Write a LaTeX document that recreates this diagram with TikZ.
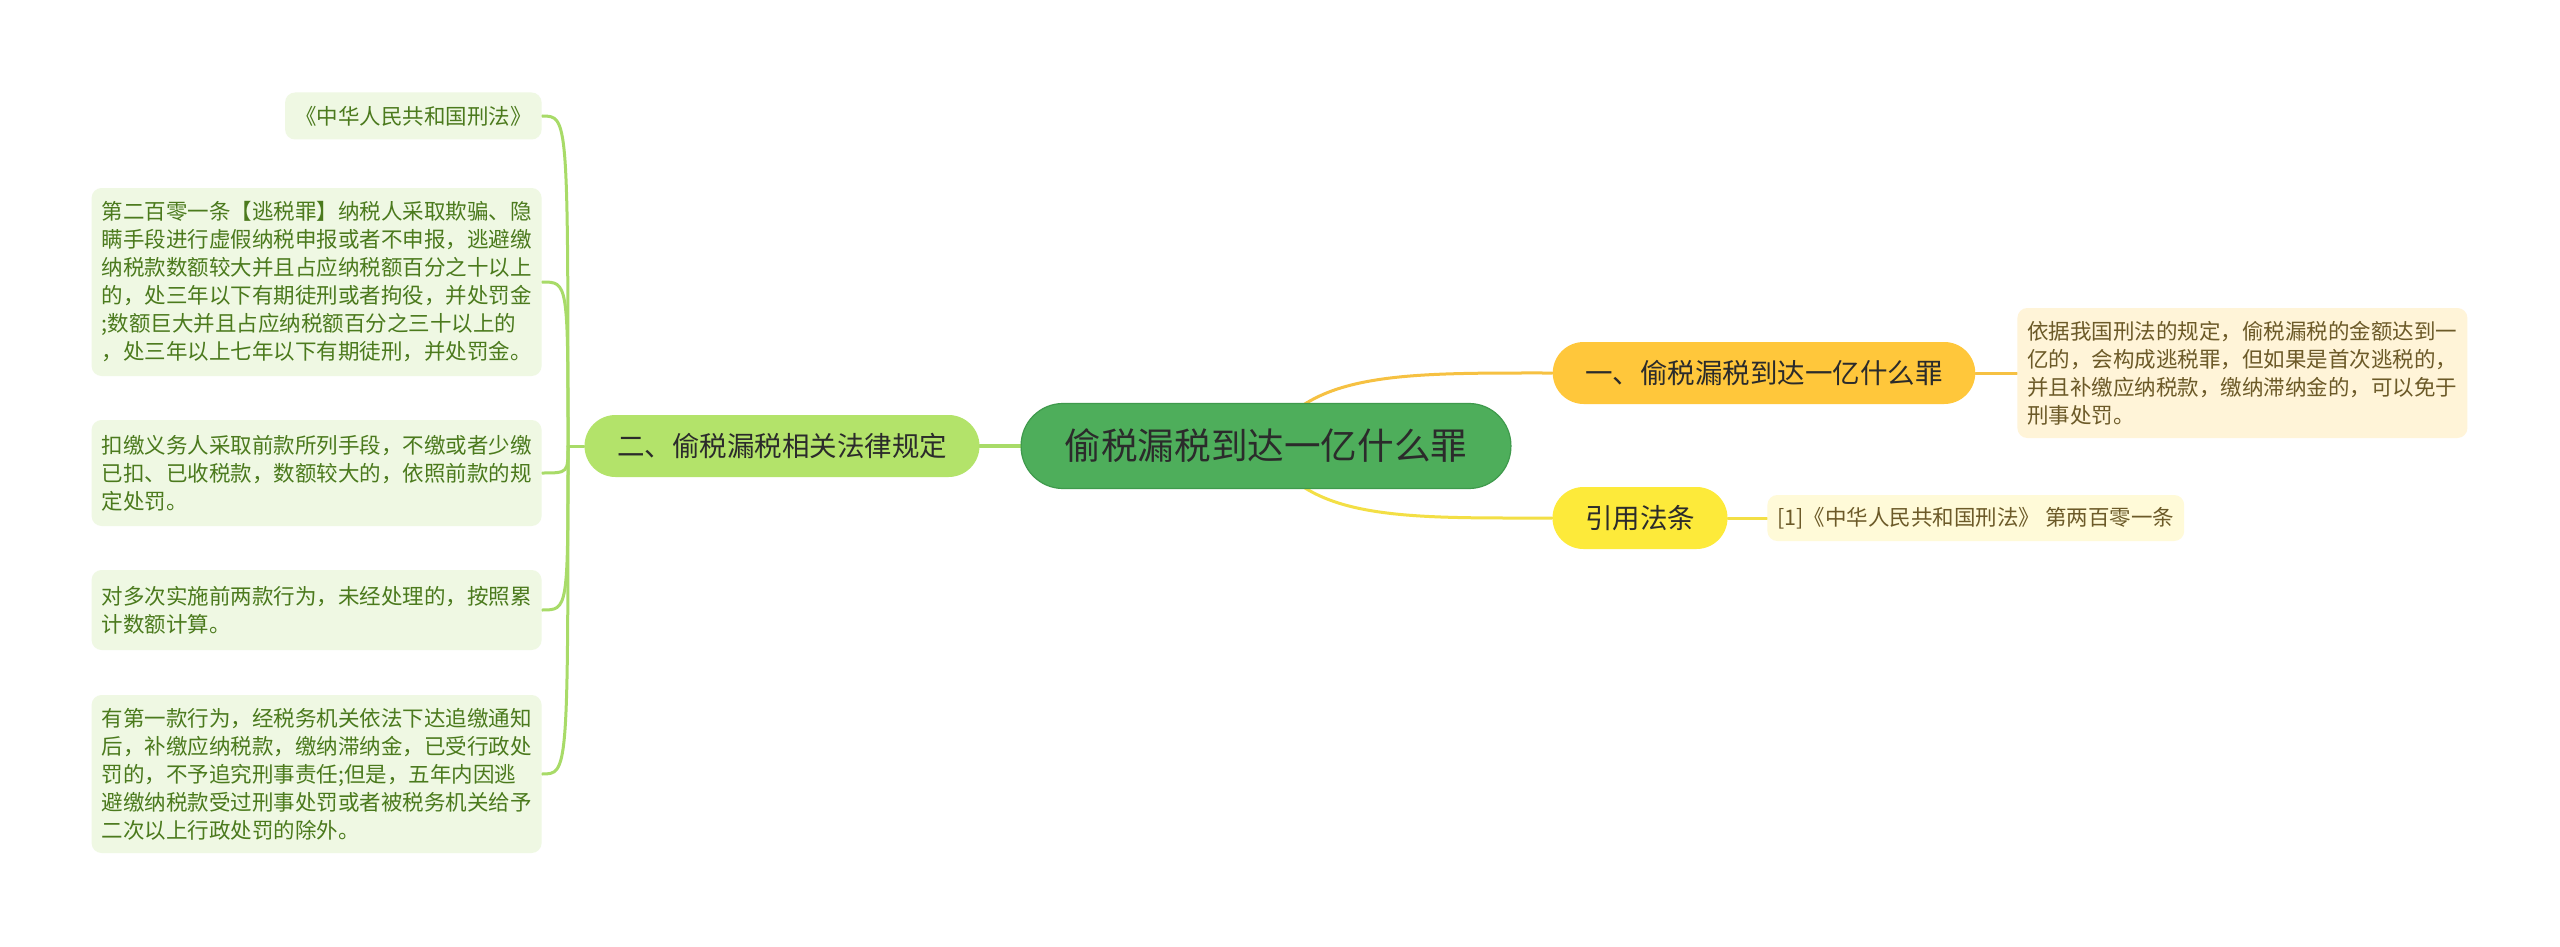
\documentclass[tikz,border=0pt]{standalone}
\usepackage{fontspec}
\setmainfont{Noto Sans CJK SC}
\usetikzlibrary{backgrounds}
\usepackage{xcolor}

\definecolor{centergreen}{HTML}{4EAE5B}
\definecolor{centeredge}{HTML}{3F9A4C}
\definecolor{branchgreen}{HTML}{B3E36A}
\definecolor{leafgreen}{HTML}{EFF8E3}
\definecolor{leaftext}{HTML}{4B7A1D}
\definecolor{wiregreen}{HTML}{A8DB68}
\definecolor{branchorange}{HTML}{FFC73B}
\definecolor{wireorange}{HTML}{F6C142}
\definecolor{leaforange}{HTML}{FFF4D8}
\definecolor{branchyellow}{HTML}{FDEA3A}
\definecolor{wireyellow}{HTML}{F3DF45}
\definecolor{leafyellow}{HTML}{FFFAD8}
\definecolor{browntext}{HTML}{6C5A28}
\definecolor{darktext}{HTML}{2B2B2B}

\tikzset{
    mainbox/.style={fill=centergreen, draw=centeredge, line width=0.6pt,
        rounded corners=21pt, minimum height=42.5pt, inner xsep=21.8pt,
        text=darktext, font=\fontsize{18.3}{22}\selectfont},
    topicbox/.style={rounded corners=15.5pt, minimum height=31pt,
        inner xsep=16.25pt, text=darktext, font=\fontsize{13.75}{16}\selectfont},
    leafbox/.style={rounded corners=5pt, align=left, inner xsep=5pt,
        inner ysep=2pt, font=\fontsize{10.75}{14}\selectfont},
    greenleaf/.style={leafbox, fill=leafgreen, text=leaftext, anchor=east},
    wire/.style={line width=1.5pt, line cap=round}
}

\begin{document}
\begin{tikzpicture}[x=0.5pt, y=-0.5pt]
        \useasboundingbox (0,0) rectangle (2560,947);

        % Central topic
        \node[mainbox] (cnode) at (1266,446) {偷税漏税到达一亿什么罪};

        % Main branches
        \node[topicbox, fill=branchgreen] (lmain) at (782,446) {二、偷税漏税相关法律规定};
        \node[topicbox, fill=branchorange] (rone) at (1764,373) {一、偷税漏税到达一亿什么罪};
        \node[topicbox, fill=branchyellow] (rtwo) at (1640,518) {引用法条};

        % Junction of the left bracket
        \coordinate (jl) at (568,446);

        % Left leaves
        \node[greenleaf, minimum height=23.5pt] (lone) at (542,116) {《中华人民共和国刑法》};
        \node[greenleaf, minimum height=94pt] (ltwo) at (542,282)
            {第二百零一条【逃税罪】纳税人采取欺骗、隐\\
             瞒手段进行虚假纳税申报或者不申报，逃避缴\\
             纳税款数额较大并且占应纳税额百分之十以上\\
             的，处三年以下有期徒刑或者拘役，并处罚金\\
             ;数额巨大并且占应纳税额百分之三十以上的\\
             ，处三年以上七年以下有期徒刑，并处罚金。};
        \node[greenleaf, minimum height=53pt] (lthree) at (542,473)
            {扣缴义务人采取前款所列手段，不缴或者少缴\\
             已扣、已收税款，数额较大的，依照前款的规\\
             定处罚。};
        \node[greenleaf, minimum height=40pt] (lfour) at (542,610)
            {对多次实施前两款行为，未经处理的，按照累\\
             计数额计算。};
        \node[greenleaf, minimum height=79pt] (lfive) at (542,774)
            {有第一款行为，经税务机关依法下达追缴通知\\
             后，补缴应纳税款，缴纳滞纳金，已受行政处\\
             罚的，不予追究刑事责任;但是，五年内因逃\\
             避缴纳税款受过刑事处罚或者被税务机关给予\\
             二次以上行政处罚的除外。};

        % Right leaves
        \node[leafbox, fill=leaforange, text=browntext, anchor=west, minimum height=65pt] (rleafone) at (2017,373)
            {依据我国刑法的规定，偷税漏税的金额达到一\\
             亿的，会构成逃税罪，但如果是首次逃税的，\\
             并且补缴应纳税款，缴纳滞纳金的，可以免于\\
             刑事处罚。};
        \node[leafbox, fill=leafyellow, text=browntext, anchor=west, minimum height=23pt] (rleaftwo) at (1767,518)
            {[1]《中华人民共和国刑法》 第两百零一条};

        % Connectors behind the nodes
        \begin{pgfonlayer}{background}
            \fill[white] (0,0) rectangle (2560,947);

            \draw[wire, wiregreen, line width=2pt] (cnode.west) -- (lmain.east);
            \draw[wire, wiregreen] (lmain.west) -- (jl);
            \foreach \leaf in {lone, ltwo, lthree, lfour, lfive}
                \draw[wire, wiregreen] (jl) .. controls (jl |- \leaf.east) .. (\leaf.east);

            \draw[wire, wireorange] (cnode.center) .. controls +(40,-75) and +(-150,0) .. (rone.west);
            \draw[wire, wireyellow] (cnode.center) .. controls +(40,75) and +(-150,0) .. (rtwo.west);
            \draw[wire, wireorange] (rone.east) -- (rleafone.west);
            \draw[wire, wireyellow] (rtwo.east) -- (rleaftwo.west);
        \end{pgfonlayer}
    \end{tikzpicture}
\end{document}
